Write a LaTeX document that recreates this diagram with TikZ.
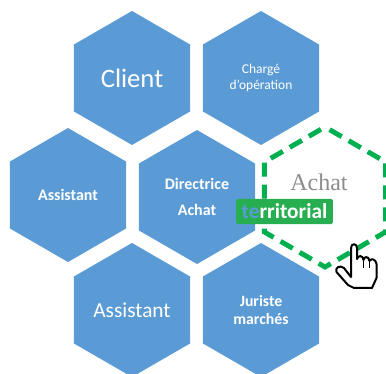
\documentclass[tikz,border=0pt]{standalone}
\usepackage{fontspec}
\setmainfont{Carlito}
\newfontfamily\achatfont{Liberation Serif}
\usetikzlibrary{shapes.geometric}
\definecolor{hexblue}{HTML}{5B9BD5}
\definecolor{dashgreen}{HTML}{00B050}
\definecolor{tagreen}{HTML}{27AE50}
\tikzset{
	hexagon/.style={regular polygon, regular polygon sides=6, shape border rotate=30,
		inner sep=0pt, minimum size=100.5pt, fill=hexblue, text=white, align=center},
	dashedhexagon/.style={regular polygon, regular polygon sides=6, shape border rotate=30,
		inner sep=0pt, minimum size=105pt, draw=dashgreen, line width=3.7pt,
		dash pattern=on 10.5pt off 6pt, dash phase=13pt},
	tagbox/.style={fill=tagreen, rounded corners=1.2pt, text=white, inner sep=0pt,
		minimum width=72.5pt, minimum height=18.8pt},
	cursor/.style={fill=white, draw=black, line width=1.5pt, line join=round},
}

\begin{document}
\begin{tikzpicture}[x=0.75pt, y=-0.75pt]
	\useasboundingbox (0,0) rectangle (386,374);
	% hexagons
	\node[hexagon, font=\fontsize{20}{24}\selectfont] (client) at (132,78) {Client};
	\node[hexagon, font=\fontsize{10.1}{11.5}\selectfont] (charge) at (261,78) {Chargé\\d'opération};
	\node[hexagon, font=\fontsize{12}{14}\selectfont\bfseries] (assistantleft) at (68,195) {Assistant};
	\node[hexagon, font=\fontsize{12}{14}\selectfont\bfseries] (directrice) at (197,197) {Directrice\\[5pt]Achat};
	\node[hexagon, font=\fontsize{16}{19}\selectfont] (assistantbottom) at (132,310) {Assistant};
	\node[hexagon, font=\fontsize{11.8}{13.5}\selectfont\bfseries] (juriste) at (261,310) {Juriste\\marchés};
	% dashed one
	\node[dashedhexagon] (achat) at (325,197) {};
	\node[text=black!45, font=\achatfont\fontsize{18}{21}\selectfont] (achatlabel) at (319,182) {Achat};
	\node[tagbox, font=\fontsize{16}{18}\selectfont\bfseries] (territorial) at (284.5,211.5) {\textcolor{hexblue}{te}rritorial};
	% hand
	\draw[cursor] (351,277) -- (351,248) .. controls (351,243) and (357,243) .. (357,248)
		-- (357,259) .. controls (358,255) and (363,255) .. (363.5,260)
		.. controls (364,256) and (369,256) .. (369.5,261)
		.. controls (371,258) and (376,259) .. (376.5,264)
		-- (376.5,278) -- (372,288) -- (354,288) -- (348,285) -- (336.5,272)
		.. controls (335,267) and (340,265) .. (344,268) -- cycle;
	\draw[black, line width=1pt] (363.5,260) -- (363.5,268);
	\draw[black, line width=1pt] (369.5,261) -- (369.5,268);
\end{tikzpicture}
\end{document}
